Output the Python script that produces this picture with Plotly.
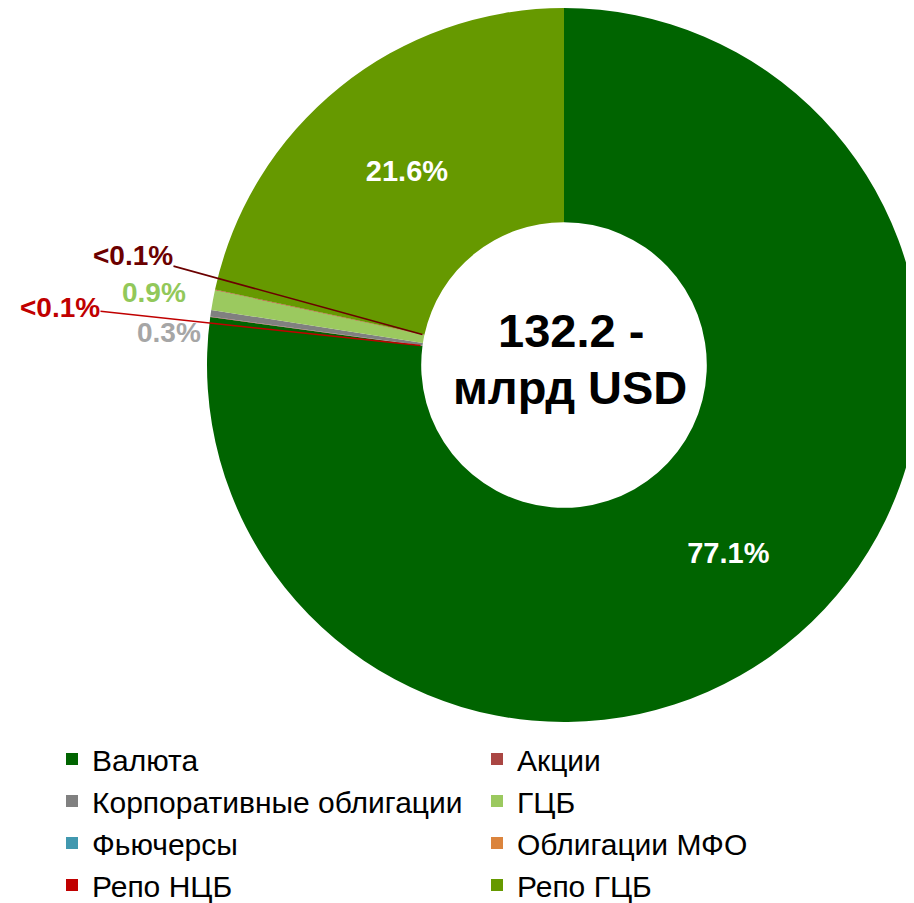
import numpy as np
import plotly.graph_objects as go

# slice data (share of turnover, %)
labels = ["Валюта", "Акции", "Корпоративные облигации", "ГЦБ",
          "Фьючерсы", "Облигации МФО", "Репо НЦБ", "Репо ГЦБ"]
values = [77.1, 0.02, 0.3, 0.9, 0.0, 0.0, 0.02, 21.6]
colors = ["#006400", "#AA4643", "#808080", "#9BC95F",
          "#4198AF", "#DB843D", "#C00000", "#669900"]
center_lines = ["132.2 -", "млрд USD"]

W, H = 914, 903
OFF = 8  # page body margin: figure pixel = screen pixel - OFF
FONT = "Liberation Sans, Arial, sans-serif"

# pie geometry (paper fractions, margins are zero)
dom_x = [199 / W, 913 / W]
dom_y = [1 - 714 / H, 1.0]
hole = 0.40
cx = (dom_x[0] + dom_x[1]) / 2 * W
cy = (1 - (dom_y[0] + dom_y[1]) / 2) * H
r_out = min((dom_x[1] - dom_x[0]) * W, (dom_y[1] - dom_y[0]) * H) / 2
r_in = r_out * hole

total = sum(values)
cum = np.cumsum([0] + values) / total * 360.0  # clockwise from 12 o'clock


def to_paper(theta, rho):
    t = np.radians(theta)
    px = cx + rho * np.sin(t)
    py = cy - rho * np.cos(t)
    return px / W, 1 - py / H, px, py


def scr(x, y):
    # screen pixel -> paper fraction
    return (x - OFF) / W, 1 - (y - OFF) / H


def pct(v):
    return "<0.1%" if v < 0.1 else f"{v:.1f}%"


text = [pct(v) for v in values]
textpos = ["inside" if v > 5 else "none" for v in values]

fig = go.Figure()
fig.add_trace(go.Pie(
    labels=labels, values=values, sort=False, direction="clockwise",
    rotation=0, hole=hole, domain=dict(x=dom_x, y=dom_y),
    marker=dict(colors=colors, line=dict(width=0)),
    text=text, textinfo="text", textposition=textpos,
    insidetextorientation="horizontal",
    textfont=dict(color="white", size=29, family=FONT, weight="bold"),
    hoverinfo="label+percent",
))

annotations = []
# center caption
cap_font = dict(size=47, color="black", family=FONT, weight="bold")
for line, dx, dy in [(center_lines[0], 7, -35), (center_lines[1], 6, 22)]:
    annotations.append(dict(x=(cx + dx) / W, y=1 - (cy + dy) / H, xref="paper", yref="paper",
                            xanchor="center", yanchor="middle",
                            text=line, showarrow=False, font=cap_font))

# small-slice labels outside the ring
i_nkb, i_akc, i_korp, i_gcb = 6, 1, 2, 3
small = [
    # (value index, text colour, label centre on screen, arrow tip angle or None)
    (i_nkb, "#C00000", (60, 307), cum[1]),
    (i_akc, "#6B0000", (133, 255), cum[4]),
    (i_gcb, "#92C85A", (154, 293), None),
    (i_korp, "#A6A6A6", (169, 332), None),
]
for idx, col, (lx, ly), tip in small:
    f = dict(size=28, color=col, family=FONT, weight="bold")
    if tip is None:
        xp, yp = scr(lx, ly)
        annotations.append(dict(x=xp, y=yp, xref="paper", yref="paper", borderpad=0,
                                xanchor="center", yanchor="middle",
                                text=text[idx], showarrow=False, font=f))
    else:
        xp, yp, px, py = to_paper(tip, r_in + 2)
        annotations.append(dict(x=xp, y=yp, xref="paper", yref="paper", borderpad=0,
                                text=text[idx], showarrow=True, arrowhead=0,
                                arrowwidth=1.6, arrowcolor=col, standoff=0,
                                ax=(lx - OFF) - px, ay=(ly - OFF) - py, font=f))

fig.update_layout(
    width=W, height=H,
    margin=dict(l=0, r=0, t=0, b=0),
    paper_bgcolor="white", plot_bgcolor="white",
    showlegend=True,
    legend=dict(orientation="h", x=44 / W, xanchor="left", y=1 - 725 / H, yanchor="top",
                entrywidth=380, entrywidthmode="pixels", traceorder="normal",
                font=dict(size=30, color="black", family=FONT),
                bgcolor="rgba(0,0,0,0)"),
    annotations=annotations,
)

fig.write_html("out.html")
